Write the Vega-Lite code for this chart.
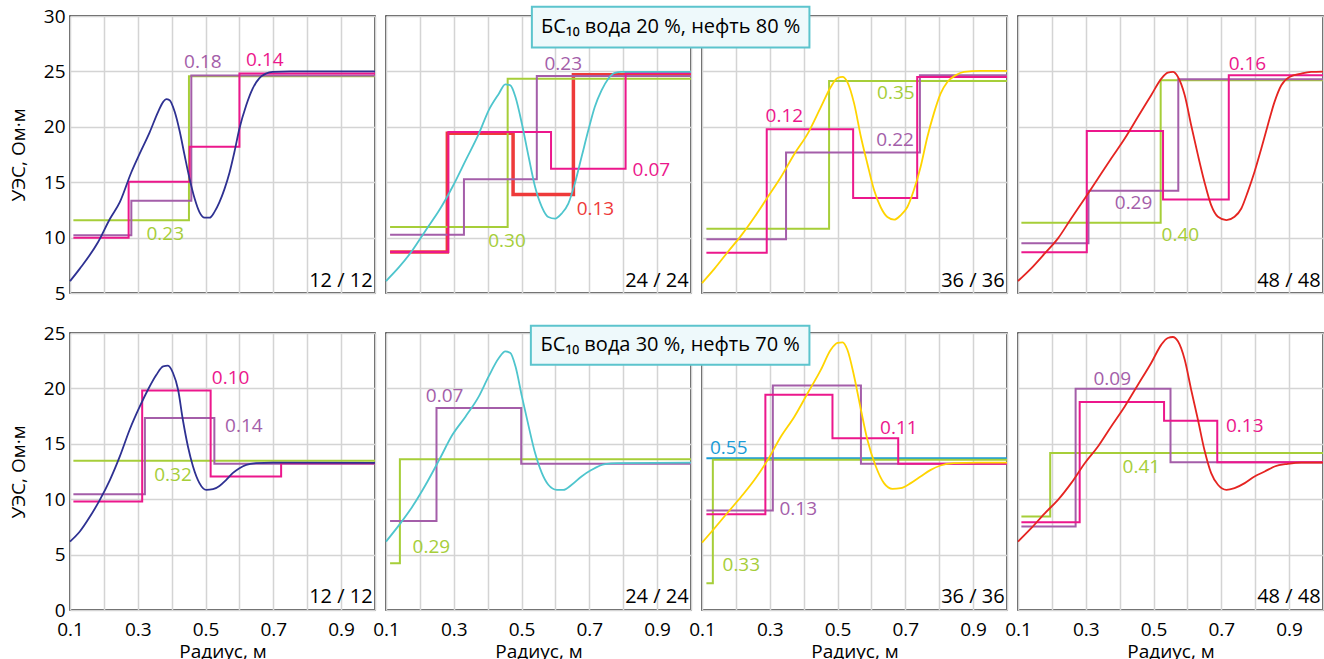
{
"$schema": "https://vega.github.io/schema/vega-lite/v6.json",
"padding": {"left": 8, "top": 5, "right": 0, "bottom": 0},
"background": "white",
"config": {
 "font": "Open Sans",
 "view": {"stroke": "#1e1e1e", "strokeWidth": 1.5},
 "axis": {"gridColor": "#d4d4d4", "gridWidth": 1.5, "labelFont": "Open Sans", "labelFontSize": 19, "labelColor": "#000", "titleFont": "Open Sans", "titleFontSize": 19, "titleFontWeight": "normal", "titleColor": "#000", "ticks": false, "domain": false, "labelFlush": false, "labelOverlap": false},
 "text": {"font": "Open Sans", "fontSize": 19}
},
"datasets": {
 "curves": [
  {"p":1,"s":"navy","x":0.1,"y":6.07},{"p":1,"s":"navy","x":0.129,"y":7.2},{"p":1,"s":"navy","x":0.183,"y":9.6},{"p":1,"s":"navy","x":0.218,"y":11.7},{"p":1,"s":"navy","x":0.247,"y":13.2},{"p":1,"s":"navy","x":0.281,"y":15.9},{"p":1,"s":"navy","x":0.306,"y":17.6},{"p":1,"s":"navy","x":0.335,"y":19.5},{"p":1,"s":"navy","x":0.36,"y":21.35},{"p":1,"s":"navy","x":0.375,"y":22.25},{"p":1,"s":"navy","x":0.384,"y":22.5},{"p":1,"s":"navy","x":0.394,"y":22.4},{"p":1,"s":"navy","x":0.409,"y":21.35},{"p":1,"s":"navy","x":0.424,"y":19.55},{"p":1,"s":"navy","x":0.438,"y":17.45},{"p":1,"s":"navy","x":0.453,"y":15.3},{"p":1,"s":"navy","x":0.468,"y":13.5},{"p":1,"s":"navy","x":0.482,"y":12.3},{"p":1,"s":"navy","x":0.497,"y":11.8},{"p":1,"s":"navy","x":0.512,"y":11.8},{"p":1,"s":"navy","x":0.526,"y":12.3},{"p":1,"s":"navy","x":0.541,"y":13.2},{"p":1,"s":"navy","x":0.556,"y":14.4},{"p":1,"s":"navy","x":0.571,"y":15.9},{"p":1,"s":"navy","x":0.585,"y":17.7},{"p":1,"s":"navy","x":0.6,"y":19.85},{"p":1,"s":"navy","x":0.62,"y":21.95},{"p":1,"s":"navy","x":0.639,"y":23.45},{"p":1,"s":"navy","x":0.659,"y":24.4},{"p":1,"s":"navy","x":0.678,"y":24.8},{"p":1,"s":"navy","x":0.698,"y":24.96},{"p":1,"s":"navy","x":0.75,"y":25.0},{"p":1,"s":"navy","x":1.0,"y":25.0},
  {"p":2,"s":"cyan","x":0.1,"y":6.08},{"p":2,"s":"cyan","x":0.139,"y":7.35},{"p":2,"s":"cyan","x":0.178,"y":8.85},{"p":2,"s":"cyan","x":0.217,"y":10.65},{"p":2,"s":"cyan","x":0.257,"y":12.46},{"p":2,"s":"cyan","x":0.296,"y":14.57},{"p":2,"s":"cyan","x":0.335,"y":16.97},{"p":2,"s":"cyan","x":0.374,"y":19.38},{"p":2,"s":"cyan","x":0.403,"y":21.49},{"p":2,"s":"cyan","x":0.433,"y":22.99},{"p":2,"s":"cyan","x":0.452,"y":23.83},{"p":2,"s":"cyan","x":0.467,"y":23.74},{"p":2,"s":"cyan","x":0.482,"y":22.69},{"p":2,"s":"cyan","x":0.501,"y":20.28},{"p":2,"s":"cyan","x":0.521,"y":17.27},{"p":2,"s":"cyan","x":0.54,"y":14.57},{"p":2,"s":"cyan","x":0.56,"y":12.76},{"p":2,"s":"cyan","x":0.579,"y":11.86},{"p":2,"s":"cyan","x":0.599,"y":11.71},{"p":2,"s":"cyan","x":0.618,"y":12.16},{"p":2,"s":"cyan","x":0.638,"y":13.06},{"p":2,"s":"cyan","x":0.657,"y":14.87},{"p":2,"s":"cyan","x":0.677,"y":17.27},{"p":2,"s":"cyan","x":0.697,"y":19.68},{"p":2,"s":"cyan","x":0.716,"y":21.79},{"p":2,"s":"cyan","x":0.736,"y":23.29},{"p":2,"s":"cyan","x":0.756,"y":24.34},{"p":2,"s":"cyan","x":0.775,"y":24.86},{"p":2,"s":"cyan","x":0.795,"y":24.95},{"p":2,"s":"cyan","x":1.0,"y":24.95},
  {"p":3,"s":"yellow","x":0.1,"y":5.9},{"p":3,"s":"yellow","x":0.137,"y":7.2},{"p":3,"s":"yellow","x":0.176,"y":8.7},{"p":3,"s":"yellow","x":0.216,"y":10.2},{"p":3,"s":"yellow","x":0.255,"y":11.86},{"p":3,"s":"yellow","x":0.294,"y":13.66},{"p":3,"s":"yellow","x":0.333,"y":15.47},{"p":3,"s":"yellow","x":0.373,"y":17.57},{"p":3,"s":"yellow","x":0.412,"y":19.38},{"p":3,"s":"yellow","x":0.451,"y":21.79},{"p":3,"s":"yellow","x":0.48,"y":23.59},{"p":3,"s":"yellow","x":0.5,"y":24.4},{"p":3,"s":"yellow","x":0.515,"y":24.5},{"p":3,"s":"yellow","x":0.529,"y":24.04},{"p":3,"s":"yellow","x":0.549,"y":22.09},{"p":3,"s":"yellow","x":0.569,"y":19.08},{"p":3,"s":"yellow","x":0.588,"y":16.67},{"p":3,"s":"yellow","x":0.608,"y":14.27},{"p":3,"s":"yellow","x":0.627,"y":12.76},{"p":3,"s":"yellow","x":0.647,"y":11.86},{"p":3,"s":"yellow","x":0.667,"y":11.62},{"p":3,"s":"yellow","x":0.686,"y":12.01},{"p":3,"s":"yellow","x":0.706,"y":12.76},{"p":3,"s":"yellow","x":0.725,"y":14.27},{"p":3,"s":"yellow","x":0.745,"y":16.37},{"p":3,"s":"yellow","x":0.765,"y":19.08},{"p":3,"s":"yellow","x":0.784,"y":21.19},{"p":3,"s":"yellow","x":0.804,"y":22.99},{"p":3,"s":"yellow","x":0.824,"y":24.04},{"p":3,"s":"yellow","x":0.848,"y":24.64},{"p":3,"s":"yellow","x":0.873,"y":24.95},{"p":3,"s":"yellow","x":0.92,"y":25.04},{"p":3,"s":"yellow","x":1.0,"y":25.04},
  {"p":4,"s":"red","x":0.1,"y":6.08},{"p":4,"s":"red","x":0.139,"y":7.22},{"p":4,"s":"red","x":0.179,"y":8.57},{"p":4,"s":"red","x":0.218,"y":9.93},{"p":4,"s":"red","x":0.257,"y":11.73},{"p":4,"s":"red","x":0.297,"y":13.53},{"p":4,"s":"red","x":0.336,"y":15.34},{"p":4,"s":"red","x":0.375,"y":17.14},{"p":4,"s":"red","x":0.415,"y":18.94},{"p":4,"s":"red","x":0.454,"y":20.9},{"p":4,"s":"red","x":0.493,"y":22.85},{"p":4,"s":"red","x":0.523,"y":24.35},{"p":4,"s":"red","x":0.542,"y":24.89},{"p":4,"s":"red","x":0.557,"y":24.95},{"p":4,"s":"red","x":0.572,"y":24.5},{"p":4,"s":"red","x":0.592,"y":22.85},{"p":4,"s":"red","x":0.611,"y":20.14},{"p":4,"s":"red","x":0.631,"y":17.44},{"p":4,"s":"red","x":0.65,"y":15.04},{"p":4,"s":"red","x":0.67,"y":12.93},{"p":4,"s":"red","x":0.69,"y":11.88},{"p":4,"s":"red","x":0.715,"y":11.58},{"p":4,"s":"red","x":0.739,"y":11.88},{"p":4,"s":"red","x":0.759,"y":12.63},{"p":4,"s":"red","x":0.778,"y":14.13},{"p":4,"s":"red","x":0.798,"y":15.94},{"p":4,"s":"red","x":0.818,"y":18.04},{"p":4,"s":"red","x":0.837,"y":20.14},{"p":4,"s":"red","x":0.857,"y":22.25},{"p":4,"s":"red","x":0.877,"y":23.75},{"p":4,"s":"red","x":0.901,"y":24.5},{"p":4,"s":"red","x":0.936,"y":24.8},{"p":4,"s":"red","x":0.965,"y":24.95},{"p":4,"s":"red","x":1.0,"y":24.98},
  {"p":5,"s":"navy","x":0.1,"y":6.17},{"p":5,"s":"navy","x":0.129,"y":7.08},{"p":5,"s":"navy","x":0.159,"y":8.43},{"p":5,"s":"navy","x":0.188,"y":9.94},{"p":5,"s":"navy","x":0.218,"y":11.75},{"p":5,"s":"navy","x":0.247,"y":13.86},{"p":5,"s":"navy","x":0.276,"y":16.27},{"p":5,"s":"navy","x":0.306,"y":18.37},{"p":5,"s":"navy","x":0.33,"y":19.88},{"p":5,"s":"navy","x":0.355,"y":21.23},{"p":5,"s":"navy","x":0.375,"y":21.99},{"p":5,"s":"navy","x":0.389,"y":22.05},{"p":5,"s":"navy","x":0.404,"y":21.39},{"p":5,"s":"navy","x":0.419,"y":19.88},{"p":5,"s":"navy","x":0.433,"y":17.17},{"p":5,"s":"navy","x":0.448,"y":14.76},{"p":5,"s":"navy","x":0.463,"y":12.95},{"p":5,"s":"navy","x":0.482,"y":11.45},{"p":5,"s":"navy","x":0.502,"y":10.84},{"p":5,"s":"navy","x":0.522,"y":10.9},{"p":5,"s":"navy","x":0.541,"y":11.2},{"p":5,"s":"navy","x":0.561,"y":11.75},{"p":5,"s":"navy","x":0.58,"y":12.35},{"p":5,"s":"navy","x":0.6,"y":12.8},{"p":5,"s":"navy","x":0.62,"y":13.1},{"p":5,"s":"navy","x":0.649,"y":13.25},{"p":5,"s":"navy","x":0.698,"y":13.31},{"p":5,"s":"navy","x":1.0,"y":13.28},
  {"p":6,"s":"cyan","x":0.1,"y":6.17},{"p":6,"s":"cyan","x":0.139,"y":7.68},{"p":6,"s":"cyan","x":0.178,"y":9.34},{"p":6,"s":"cyan","x":0.217,"y":11.3},{"p":6,"s":"cyan","x":0.257,"y":13.55},{"p":6,"s":"cyan","x":0.296,"y":15.81},{"p":6,"s":"cyan","x":0.335,"y":17.47},{"p":6,"s":"cyan","x":0.374,"y":19.28},{"p":6,"s":"cyan","x":0.403,"y":21.08},{"p":6,"s":"cyan","x":0.433,"y":22.74},{"p":6,"s":"cyan","x":0.452,"y":23.34},{"p":6,"s":"cyan","x":0.467,"y":23.19},{"p":6,"s":"cyan","x":0.482,"y":21.99},{"p":6,"s":"cyan","x":0.501,"y":19.28},{"p":6,"s":"cyan","x":0.521,"y":16.57},{"p":6,"s":"cyan","x":0.54,"y":14.16},{"p":6,"s":"cyan","x":0.56,"y":12.35},{"p":6,"s":"cyan","x":0.579,"y":11.3},{"p":6,"s":"cyan","x":0.604,"y":10.84},{"p":6,"s":"cyan","x":0.623,"y":10.84},{"p":6,"s":"cyan","x":0.648,"y":11.3},{"p":6,"s":"cyan","x":0.677,"y":12.05},{"p":6,"s":"cyan","x":0.707,"y":12.65},{"p":6,"s":"cyan","x":0.746,"y":13.16},{"p":6,"s":"cyan","x":0.785,"y":13.25},{"p":6,"s":"cyan","x":1.0,"y":13.31},
  {"p":7,"s":"yellow","x":0.1,"y":6.08},{"p":7,"s":"yellow","x":0.137,"y":7.38},{"p":7,"s":"yellow","x":0.176,"y":8.8},{"p":7,"s":"yellow","x":0.216,"y":10.24},{"p":7,"s":"yellow","x":0.255,"y":11.75},{"p":7,"s":"yellow","x":0.294,"y":13.55},{"p":7,"s":"yellow","x":0.333,"y":15.66},{"p":7,"s":"yellow","x":0.373,"y":17.47},{"p":7,"s":"yellow","x":0.412,"y":19.58},{"p":7,"s":"yellow","x":0.451,"y":21.69},{"p":7,"s":"yellow","x":0.48,"y":23.49},{"p":7,"s":"yellow","x":0.5,"y":24.1},{"p":7,"s":"yellow","x":0.515,"y":24.16},{"p":7,"s":"yellow","x":0.529,"y":23.49},{"p":7,"s":"yellow","x":0.549,"y":21.08},{"p":7,"s":"yellow","x":0.569,"y":18.07},{"p":7,"s":"yellow","x":0.588,"y":15.36},{"p":7,"s":"yellow","x":0.613,"y":12.95},{"p":7,"s":"yellow","x":0.637,"y":11.45},{"p":7,"s":"yellow","x":0.662,"y":10.93},{"p":7,"s":"yellow","x":0.686,"y":10.99},{"p":7,"s":"yellow","x":0.716,"y":11.45},{"p":7,"s":"yellow","x":0.745,"y":12.05},{"p":7,"s":"yellow","x":0.775,"y":12.65},{"p":7,"s":"yellow","x":0.804,"y":13.04},{"p":7,"s":"yellow","x":0.843,"y":13.25},{"p":7,"s":"yellow","x":0.912,"y":13.31},{"p":7,"s":"yellow","x":1.0,"y":13.31},
  {"p":8,"s":"red","x":0.1,"y":6.17},{"p":8,"s":"red","x":0.139,"y":7.38},{"p":8,"s":"red","x":0.179,"y":8.73},{"p":8,"s":"red","x":0.218,"y":9.94},{"p":8,"s":"red","x":0.257,"y":11.45},{"p":8,"s":"red","x":0.297,"y":13.25},{"p":8,"s":"red","x":0.336,"y":14.76},{"p":8,"s":"red","x":0.375,"y":16.57},{"p":8,"s":"red","x":0.415,"y":18.37},{"p":8,"s":"red","x":0.454,"y":20.33},{"p":8,"s":"red","x":0.493,"y":22.29},{"p":8,"s":"red","x":0.523,"y":23.95},{"p":8,"s":"red","x":0.542,"y":24.55},{"p":8,"s":"red","x":0.557,"y":24.64},{"p":8,"s":"red","x":0.572,"y":24.25},{"p":8,"s":"red","x":0.592,"y":22.59},{"p":8,"s":"red","x":0.611,"y":19.88},{"p":8,"s":"red","x":0.631,"y":17.17},{"p":8,"s":"red","x":0.65,"y":14.46},{"p":8,"s":"red","x":0.67,"y":12.35},{"p":8,"s":"red","x":0.69,"y":11.3},{"p":8,"s":"red","x":0.715,"y":10.84},{"p":8,"s":"red","x":0.739,"y":11.0},{"p":8,"s":"red","x":0.769,"y":11.45},{"p":8,"s":"red","x":0.798,"y":12.05},{"p":8,"s":"red","x":0.828,"y":12.5},{"p":8,"s":"red","x":0.857,"y":12.95},{"p":8,"s":"red","x":0.896,"y":13.19},{"p":8,"s":"red","x":0.936,"y":13.31},{"p":8,"s":"red","x":1.0,"y":13.31}
 ],
 "steps": [
  {"p":1,"s":"green","x":0.11,"y":11.57},{"p":1,"s":"green","x":0.451,"y":24.57},{"p":1,"s":"green","x":1.0,"y":24.57},
  {"p":1,"s":"purple","x":0.11,"y":10.22},{"p":1,"s":"purple","x":0.281,"y":13.32},{"p":1,"s":"purple","x":0.458,"y":24.62},{"p":1,"s":"purple","x":1.0,"y":24.62},
  {"p":1,"s":"pink","x":0.11,"y":9.98},{"p":1,"s":"pink","x":0.273,"y":15.03},{"p":1,"s":"pink","x":0.453,"y":18.19},{"p":1,"s":"pink","x":0.6,"y":24.81},{"p":1,"s":"pink","x":1.0,"y":24.81},
  {"p":2,"s":"redstep","x":0.112,"y":8.7},{"p":2,"s":"redstep","x":0.281,"y":19.41},{"p":2,"s":"redstep","x":0.475,"y":13.88},{"p":2,"s":"redstep","x":0.653,"y":24.7},{"p":2,"s":"redstep","x":1.0,"y":24.7},
  {"p":2,"s":"green","x":0.112,"y":10.96},{"p":2,"s":"green","x":0.459,"y":24.34},{"p":2,"s":"green","x":1.0,"y":24.34},
  {"p":2,"s":"purple","x":0.112,"y":10.26},{"p":2,"s":"purple","x":0.33,"y":15.26},{"p":2,"s":"purple","x":0.545,"y":24.58},{"p":2,"s":"purple","x":1.0,"y":24.58},
  {"p":2,"s":"pink","x":0.112,"y":8.7},{"p":2,"s":"pink","x":0.284,"y":19.53},{"p":2,"s":"pink","x":0.587,"y":16.22},{"p":2,"s":"pink","x":0.807,"y":24.86},{"p":2,"s":"pink","x":1.0,"y":24.86},
  {"p":3,"s":"green","x":0.113,"y":10.81},{"p":3,"s":"green","x":0.475,"y":24.13},{"p":3,"s":"green","x":1.0,"y":24.13},
  {"p":3,"s":"purple","x":0.113,"y":9.84},{"p":3,"s":"purple","x":0.348,"y":17.67},{"p":3,"s":"purple","x":0.743,"y":24.65},{"p":3,"s":"purple","x":1.0,"y":24.65},
  {"p":3,"s":"pink","x":0.113,"y":8.64},{"p":3,"s":"pink","x":0.291,"y":19.77},{"p":3,"s":"pink","x":0.546,"y":13.57},{"p":3,"s":"pink","x":0.735,"y":24.5},{"p":3,"s":"pink","x":1.0,"y":24.5},
  {"p":4,"s":"green","x":0.11,"y":11.34},{"p":4,"s":"green","x":0.521,"y":24.2},{"p":4,"s":"green","x":1.0,"y":24.2},
  {"p":4,"s":"purple","x":0.11,"y":9.48},{"p":4,"s":"purple","x":0.308,"y":14.22},{"p":4,"s":"purple","x":0.573,"y":24.29},{"p":4,"s":"purple","x":1.0,"y":24.29},
  {"p":4,"s":"pink","x":0.11,"y":8.67},{"p":4,"s":"pink","x":0.303,"y":19.63},{"p":4,"s":"pink","x":0.528,"y":13.44},{"p":4,"s":"pink","x":0.722,"y":24.65},{"p":4,"s":"pink","x":1.0,"y":24.65},
  {"p":5,"s":"green","x":0.11,"y":13.46},{"p":5,"s":"green","x":1.0,"y":13.46},
  {"p":5,"s":"purple","x":0.11,"y":10.45},{"p":5,"s":"purple","x":0.321,"y":17.32},{"p":5,"s":"purple","x":0.526,"y":13.19},{"p":5,"s":"purple","x":1.0,"y":13.19},
  {"p":5,"s":"pink","x":0.11,"y":9.79},{"p":5,"s":"pink","x":0.313,"y":19.82},{"p":5,"s":"pink","x":0.515,"y":12.05},{"p":5,"s":"pink","x":0.723,"y":13.25},{"p":5,"s":"pink","x":1.0,"y":13.25},
  {"p":6,"s":"green","x":0.112,"y":4.22},{"p":6,"s":"green","x":0.141,"y":13.61},{"p":6,"s":"green","x":1.0,"y":13.61},
  {"p":6,"s":"purple","x":0.112,"y":8.04},{"p":6,"s":"purple","x":0.249,"y":18.22},{"p":6,"s":"purple","x":0.499,"y":13.19},{"p":6,"s":"purple","x":1.0,"y":13.19},
  {"p":7,"s":"blue","x":0.113,"y":13.7},{"p":7,"s":"blue","x":1.0,"y":13.7},
  {"p":7,"s":"green","x":0.113,"y":2.41},{"p":7,"s":"green","x":0.132,"y":13.56},{"p":7,"s":"green","x":1.0,"y":13.56},
  {"p":7,"s":"purple","x":0.113,"y":8.98},{"p":7,"s":"purple","x":0.309,"y":20.27},{"p":7,"s":"purple","x":0.569,"y":13.19},{"p":7,"s":"purple","x":1.0,"y":13.19},
  {"p":7,"s":"pink","x":0.113,"y":8.64},{"p":7,"s":"pink","x":0.287,"y":19.43},{"p":7,"s":"pink","x":0.485,"y":15.51},{"p":7,"s":"pink","x":0.679,"y":13.19},{"p":7,"s":"pink","x":1.0,"y":13.19},
  {"p":8,"s":"green","x":0.11,"y":8.43},{"p":8,"s":"green","x":0.195,"y":14.16},{"p":8,"s":"green","x":1.0,"y":14.16},
  {"p":8,"s":"purple","x":0.11,"y":7.53},{"p":8,"s":"purple","x":0.27,"y":19.97},{"p":8,"s":"purple","x":0.55,"y":13.34},{"p":8,"s":"purple","x":1.0,"y":13.34},
  {"p":8,"s":"pink","x":0.11,"y":7.92},{"p":8,"s":"pink","x":0.282,"y":18.77},{"p":8,"s":"pink","x":0.531,"y":17.08},{"p":8,"s":"pink","x":0.688,"y":13.34},{"p":8,"s":"pink","x":1.0,"y":13.34}
 ],
 "labels": [
  {"p":1,"s":"purple","t":"0.18","x":0.492,"y":25.86},{"p":1,"s":"pink","t":"0.14","x":0.675,"y":26.0},{"p":1,"s":"green","t":"0.23","x":0.381,"y":10.37},
  {"p":2,"s":"purple","t":"0.23","x":0.623,"y":25.7},{"p":2,"s":"pink","t":"0.07","x":0.883,"y":16.07},{"p":2,"s":"redstep","t":"0.13","x":0.718,"y":12.6},{"p":2,"s":"green","t":"0.30","x":0.457,"y":9.66},
  {"p":3,"s":"pink","t":"0.12","x":0.343,"y":20.97},{"p":3,"s":"purple","t":"0.22","x":0.67,"y":18.78},{"p":3,"s":"green","t":"0.35","x":0.672,"y":23.05},
  {"p":4,"s":"pink","t":"0.16","x":0.777,"y":25.7},{"p":4,"s":"purple","t":"0.29","x":0.441,"y":13.14},{"p":4,"s":"green","t":"0.40","x":0.579,"y":10.23},
  {"p":5,"s":"pink","t":"0.10","x":0.574,"y":20.93},{"p":5,"s":"purple","t":"0.14","x":0.613,"y":16.63},{"p":5,"s":"green","t":"0.32","x":0.404,"y":12.2},
  {"p":6,"s":"purple","t":"0.07","x":0.273,"y":19.28},{"p":6,"s":"green","t":"0.29","x":0.234,"y":5.72},
  {"p":7,"s":"blue","t":"0.55","x":0.179,"y":14.61},{"p":7,"s":"pink","t":"0.11","x":0.681,"y":16.42},{"p":7,"s":"purple","t":"0.13","x":0.384,"y":9.1},{"p":7,"s":"green","t":"0.33","x":0.216,"y":4.07},
  {"p":8,"s":"purple","t":"0.09","x":0.378,"y":20.84},{"p":8,"s":"pink","t":"0.13","x":0.769,"y":16.63},{"p":8,"s":"green","t":"0.41","x":0.464,"y":12.95}
 ],
 "corners": [
  {"p":1,"t":"12 / 12","x":0.993,"y":6.07},{"p":2,"t":"24 / 24","x":0.993,"y":6.07},{"p":3,"t":"36 / 36","x":0.993,"y":6.07},{"p":4,"t":"48 / 48","x":0.993,"y":6.07},
  {"p":5,"t":"12 / 12","x":0.993,"y":1.2},{"p":6,"t":"24 / 24","x":0.993,"y":1.2},{"p":7,"t":"36 / 36","x":0.993,"y":1.2},{"p":8,"t":"48 / 48","x":0.993,"y":1.2}
 ],
 "boxes": [
  {"p":3,"t":"БС₁₀  вода 20 %, нефть 80 %","x":-0.402,"x2":0.417,"y":27.16,"y2":30.83,"tx":0.0075,"ty":29.0},
  {"p":7,"t":"БС₁₀  вода 30 %, нефть 70 %","x":-0.405,"x2":0.417,"y":22.14,"y2":25.66,"tx":0.006,"ty":23.9}
 ]
},
"spacing": 19,
"vconcat": [
 {"spacing": 11, "bounds": "flush", "hconcat": [
  {"width": 305, "height": 277,
   "encoding": {
    "x": {"field": "x", "type": "quantitative", "scale": {"domain": [0.1, 1.0], "nice": false, "zero": false}, "axis": {"values": [0.1,0.2,0.3,0.4,0.5,0.6,0.7,0.8,0.9,1.0], "labels": false, "title": null}},
    "y": {"field": "y", "type": "quantitative", "scale": {"domain": [5, 30], "nice": false, "zero": false}, "axis": {"values": [5,10,15,20,25,30], "title": "УЭС, Ом·м", "labelPadding": 5, "titlePadding": 15}}
   },
   "layer": [
    {"data": {"name": "steps"}, "transform": [{"filter": "datum.p == 1"}], "mark": {"type": "line", "interpolate": "step-after", "strokeWidth": 2}, "encoding": {"color": {"field": "s", "type": "nominal", "legend": null, "scale": {"domain": ["navy","cyan","yellow","red","green","purple","pink","redstep","blue"], "range": ["#2e3192","#4ec5cd","#ffd400","#e52421","#a6ce39","#a45ea9","#ec178c","#ee3a3a","#1a9bd7"]}}}},
    {"data": {"name": "curves"}, "transform": [{"filter": "datum.p == 1"}], "mark": {"type": "line", "interpolate": "monotone", "strokeWidth": 1.8}, "encoding": {"color": {"field": "s", "type": "nominal", "legend": null, "scale": {"domain": ["navy","cyan","yellow","red","green","purple","pink","redstep","blue"], "range": ["#2e3192","#4ec5cd","#ffd400","#e52421","#a6ce39","#a45ea9","#ec178c","#ee3a3a","#1a9bd7"]}}}},
    {"data": {"name": "labels"}, "transform": [{"filter": "datum.p == 1"}], "mark": {"type": "text", "fontSize": 19, "align": "center", "baseline": "middle"}, "encoding": {"text": {"field": "t"}, "color": {"field": "s", "type": "nominal", "legend": null, "scale": {"domain": ["navy","cyan","yellow","red","green","purple","pink","redstep","blue"], "range": ["#2e3192","#4ec5cd","#ffd400","#e52421","#a6ce39","#a45ea9","#ec178c","#ee3a3a","#1a9bd7"]}}}},
    {"data": {"name": "corners"}, "transform": [{"filter": "datum.p == 1"}], "mark": {"type": "text", "fontSize": 20, "align": "right", "baseline": "middle", "color": "#000"}, "encoding": {"text": {"field": "t"}}}
   ]},
  {"width": 305, "height": 277,
   "encoding": {
    "x": {"field": "x", "type": "quantitative", "scale": {"domain": [0.1, 1.0], "nice": false, "zero": false}, "axis": {"values": [0.1,0.2,0.3,0.4,0.5,0.6,0.7,0.8,0.9,1.0], "labels": false, "title": null}},
    "y": {"field": "y", "type": "quantitative", "scale": {"domain": [5, 30], "nice": false, "zero": false}, "axis": {"values": [5,10,15,20,25,30], "labels": false, "title": null}}
   },
   "layer": [
    {"data": {"name": "steps"}, "transform": [{"filter": "datum.p == 2 && datum.s == 'redstep'"}], "mark": {"type": "line", "interpolate": "step-after", "strokeWidth": 3.5}, "encoding": {"color": {"field": "s", "type": "nominal", "legend": null, "scale": {"domain": ["navy","cyan","yellow","red","green","purple","pink","redstep","blue"], "range": ["#2e3192","#4ec5cd","#ffd400","#e52421","#a6ce39","#a45ea9","#ec178c","#ee3a3a","#1a9bd7"]}}}},
    {"data": {"name": "steps"}, "transform": [{"filter": "datum.p == 2 && datum.s != 'redstep'"}], "mark": {"type": "line", "interpolate": "step-after", "strokeWidth": 2}, "encoding": {"color": {"field": "s", "type": "nominal", "legend": null, "scale": {"domain": ["navy","cyan","yellow","red","green","purple","pink","redstep","blue"], "range": ["#2e3192","#4ec5cd","#ffd400","#e52421","#a6ce39","#a45ea9","#ec178c","#ee3a3a","#1a9bd7"]}}}},
    {"data": {"name": "curves"}, "transform": [{"filter": "datum.p == 2"}], "mark": {"type": "line", "interpolate": "monotone", "strokeWidth": 1.8}, "encoding": {"color": {"field": "s", "type": "nominal", "legend": null, "scale": {"domain": ["navy","cyan","yellow","red","green","purple","pink","redstep","blue"], "range": ["#2e3192","#4ec5cd","#ffd400","#e52421","#a6ce39","#a45ea9","#ec178c","#ee3a3a","#1a9bd7"]}}}},
    {"data": {"name": "labels"}, "transform": [{"filter": "datum.p == 2"}], "mark": {"type": "text", "fontSize": 19, "align": "center", "baseline": "middle"}, "encoding": {"text": {"field": "t"}, "color": {"field": "s", "type": "nominal", "legend": null, "scale": {"domain": ["navy","cyan","yellow","red","green","purple","pink","redstep","blue"], "range": ["#2e3192","#4ec5cd","#ffd400","#e52421","#a6ce39","#a45ea9","#ec178c","#ee3a3a","#1a9bd7"]}}}},
    {"data": {"name": "corners"}, "transform": [{"filter": "datum.p == 2"}], "mark": {"type": "text", "fontSize": 20, "align": "right", "baseline": "middle", "color": "#000"}, "encoding": {"text": {"field": "t"}}}
   ]},
  {"width": 305, "height": 277,
   "encoding": {
    "x": {"field": "x", "type": "quantitative", "scale": {"domain": [0.1, 1.0], "nice": false, "zero": false}, "axis": {"values": [0.1,0.2,0.3,0.4,0.5,0.6,0.7,0.8,0.9,1.0], "labels": false, "title": null}},
    "y": {"field": "y", "type": "quantitative", "scale": {"domain": [5, 30], "nice": false, "zero": false}, "axis": {"values": [5,10,15,20,25,30], "labels": false, "title": null}}
   },
   "layer": [
    {"data": {"name": "steps"}, "transform": [{"filter": "datum.p == 3"}], "mark": {"type": "line", "interpolate": "step-after", "strokeWidth": 2}, "encoding": {"color": {"field": "s", "type": "nominal", "legend": null, "scale": {"domain": ["navy","cyan","yellow","red","green","purple","pink","redstep","blue"], "range": ["#2e3192","#4ec5cd","#ffd400","#e52421","#a6ce39","#a45ea9","#ec178c","#ee3a3a","#1a9bd7"]}}}},
    {"data": {"name": "curves"}, "transform": [{"filter": "datum.p == 3"}], "mark": {"type": "line", "interpolate": "monotone", "strokeWidth": 1.8}, "encoding": {"color": {"field": "s", "type": "nominal", "legend": null, "scale": {"domain": ["navy","cyan","yellow","red","green","purple","pink","redstep","blue"], "range": ["#2e3192","#4ec5cd","#ffd400","#e52421","#a6ce39","#a45ea9","#ec178c","#ee3a3a","#1a9bd7"]}}}},
    {"data": {"name": "labels"}, "transform": [{"filter": "datum.p == 3"}], "mark": {"type": "text", "fontSize": 19, "align": "center", "baseline": "middle"}, "encoding": {"text": {"field": "t"}, "color": {"field": "s", "type": "nominal", "legend": null, "scale": {"domain": ["navy","cyan","yellow","red","green","purple","pink","redstep","blue"], "range": ["#2e3192","#4ec5cd","#ffd400","#e52421","#a6ce39","#a45ea9","#ec178c","#ee3a3a","#1a9bd7"]}}}},
    {"data": {"name": "corners"}, "transform": [{"filter": "datum.p == 3"}], "mark": {"type": "text", "fontSize": 20, "align": "right", "baseline": "middle", "color": "#000"}, "encoding": {"text": {"field": "t"}}},
    {"data": {"name": "boxes"}, "transform": [{"filter": "datum.p == 3"}], "mark": {"type": "rect", "fill": "#eef9fb", "stroke": "#5cc4cd", "strokeWidth": 2}, "encoding": {"x2": {"field": "x2"}, "y2": {"field": "y2"}}},
    {"data": {"name": "boxes"}, "transform": [{"filter": "datum.p == 3"}], "mark": {"type": "text", "fontSize": 20, "align": "center", "baseline": "middle", "color": "#000"}, "encoding": {"x": {"field": "tx", "type": "quantitative", "scale": {"domain": [0.1, 1.0], "nice": false, "zero": false}}, "y": {"field": "ty", "type": "quantitative", "scale": {"domain": [5, 30], "nice": false, "zero": false}}, "text": {"field": "t"}}}
   ]},
  {"width": 305, "height": 277,
   "encoding": {
    "x": {"field": "x", "type": "quantitative", "scale": {"domain": [0.1, 1.0], "nice": false, "zero": false}, "axis": {"values": [0.1,0.2,0.3,0.4,0.5,0.6,0.7,0.8,0.9,1.0], "labels": false, "title": null}},
    "y": {"field": "y", "type": "quantitative", "scale": {"domain": [5, 30], "nice": false, "zero": false}, "axis": {"values": [5,10,15,20,25,30], "labels": false, "title": null}}
   },
   "layer": [
    {"data": {"name": "steps"}, "transform": [{"filter": "datum.p == 4"}], "mark": {"type": "line", "interpolate": "step-after", "strokeWidth": 2}, "encoding": {"color": {"field": "s", "type": "nominal", "legend": null, "scale": {"domain": ["navy","cyan","yellow","red","green","purple","pink","redstep","blue"], "range": ["#2e3192","#4ec5cd","#ffd400","#e52421","#a6ce39","#a45ea9","#ec178c","#ee3a3a","#1a9bd7"]}}}},
    {"data": {"name": "curves"}, "transform": [{"filter": "datum.p == 4"}], "mark": {"type": "line", "interpolate": "monotone", "strokeWidth": 1.8}, "encoding": {"color": {"field": "s", "type": "nominal", "legend": null, "scale": {"domain": ["navy","cyan","yellow","red","green","purple","pink","redstep","blue"], "range": ["#2e3192","#4ec5cd","#ffd400","#e52421","#a6ce39","#a45ea9","#ec178c","#ee3a3a","#1a9bd7"]}}}},
    {"data": {"name": "labels"}, "transform": [{"filter": "datum.p == 4"}], "mark": {"type": "text", "fontSize": 19, "align": "center", "baseline": "middle"}, "encoding": {"text": {"field": "t"}, "color": {"field": "s", "type": "nominal", "legend": null, "scale": {"domain": ["navy","cyan","yellow","red","green","purple","pink","redstep","blue"], "range": ["#2e3192","#4ec5cd","#ffd400","#e52421","#a6ce39","#a45ea9","#ec178c","#ee3a3a","#1a9bd7"]}}}},
    {"data": {"name": "corners"}, "transform": [{"filter": "datum.p == 4"}], "mark": {"type": "text", "fontSize": 20, "align": "right", "baseline": "middle", "color": "#000"}, "encoding": {"text": {"field": "t"}}}
   ]}
 ]},
 {"spacing": 11, "bounds": "flush", "hconcat": [
  {"width": 305, "height": 277,
   "encoding": {
    "x": {"field": "x", "type": "quantitative", "scale": {"domain": [0.1, 1.0], "nice": false, "zero": false}, "axis": {"values": [0.1,0.2,0.3,0.4,0.5,0.6,0.7,0.8,0.9,1.0], "format": ".1f", "labelExpr": "indexof(['0.1','0.3','0.5','0.7','0.9'], datum.label) >= 0 ? datum.label : ''", "title": "Радиус, м", "labelPadding": 10, "titlePadding": 3, "labelDx": 5}},
    "y": {"field": "y", "type": "quantitative", "scale": {"domain": [0, 25], "nice": false, "zero": false}, "axis": {"values": [0,5,10,15,20,25], "title": "УЭС, Ом·м", "labelPadding": 5, "titlePadding": 15}}
   },
   "layer": [
    {"data": {"name": "steps"}, "transform": [{"filter": "datum.p == 5"}], "mark": {"type": "line", "interpolate": "step-after", "strokeWidth": 2}, "encoding": {"color": {"field": "s", "type": "nominal", "legend": null, "scale": {"domain": ["navy","cyan","yellow","red","green","purple","pink","redstep","blue"], "range": ["#2e3192","#4ec5cd","#ffd400","#e52421","#a6ce39","#a45ea9","#ec178c","#ee3a3a","#1a9bd7"]}}}},
    {"data": {"name": "curves"}, "transform": [{"filter": "datum.p == 5"}], "mark": {"type": "line", "interpolate": "monotone", "strokeWidth": 1.8}, "encoding": {"color": {"field": "s", "type": "nominal", "legend": null, "scale": {"domain": ["navy","cyan","yellow","red","green","purple","pink","redstep","blue"], "range": ["#2e3192","#4ec5cd","#ffd400","#e52421","#a6ce39","#a45ea9","#ec178c","#ee3a3a","#1a9bd7"]}}}},
    {"data": {"name": "labels"}, "transform": [{"filter": "datum.p == 5"}], "mark": {"type": "text", "fontSize": 19, "align": "center", "baseline": "middle"}, "encoding": {"text": {"field": "t"}, "color": {"field": "s", "type": "nominal", "legend": null, "scale": {"domain": ["navy","cyan","yellow","red","green","purple","pink","redstep","blue"], "range": ["#2e3192","#4ec5cd","#ffd400","#e52421","#a6ce39","#a45ea9","#ec178c","#ee3a3a","#1a9bd7"]}}}},
    {"data": {"name": "corners"}, "transform": [{"filter": "datum.p == 5"}], "mark": {"type": "text", "fontSize": 20, "align": "right", "baseline": "middle", "color": "#000"}, "encoding": {"text": {"field": "t"}}}
   ]},
  {"width": 305, "height": 277,
   "encoding": {
    "x": {"field": "x", "type": "quantitative", "scale": {"domain": [0.1, 1.0], "nice": false, "zero": false}, "axis": {"values": [0.1,0.2,0.3,0.4,0.5,0.6,0.7,0.8,0.9,1.0], "format": ".1f", "labelExpr": "indexof(['0.1','0.3','0.5','0.7','0.9'], datum.label) >= 0 ? datum.label : ''", "title": "Радиус, м", "labelPadding": 10, "titlePadding": 3, "labelDx": 5}},
    "y": {"field": "y", "type": "quantitative", "scale": {"domain": [0, 25], "nice": false, "zero": false}, "axis": {"values": [0,5,10,15,20,25], "labels": false, "title": null}}
   },
   "layer": [
    {"data": {"name": "steps"}, "transform": [{"filter": "datum.p == 6"}], "mark": {"type": "line", "interpolate": "step-after", "strokeWidth": 2}, "encoding": {"color": {"field": "s", "type": "nominal", "legend": null, "scale": {"domain": ["navy","cyan","yellow","red","green","purple","pink","redstep","blue"], "range": ["#2e3192","#4ec5cd","#ffd400","#e52421","#a6ce39","#a45ea9","#ec178c","#ee3a3a","#1a9bd7"]}}}},
    {"data": {"name": "curves"}, "transform": [{"filter": "datum.p == 6"}], "mark": {"type": "line", "interpolate": "monotone", "strokeWidth": 1.8}, "encoding": {"color": {"field": "s", "type": "nominal", "legend": null, "scale": {"domain": ["navy","cyan","yellow","red","green","purple","pink","redstep","blue"], "range": ["#2e3192","#4ec5cd","#ffd400","#e52421","#a6ce39","#a45ea9","#ec178c","#ee3a3a","#1a9bd7"]}}}},
    {"data": {"name": "labels"}, "transform": [{"filter": "datum.p == 6"}], "mark": {"type": "text", "fontSize": 19, "align": "center", "baseline": "middle"}, "encoding": {"text": {"field": "t"}, "color": {"field": "s", "type": "nominal", "legend": null, "scale": {"domain": ["navy","cyan","yellow","red","green","purple","pink","redstep","blue"], "range": ["#2e3192","#4ec5cd","#ffd400","#e52421","#a6ce39","#a45ea9","#ec178c","#ee3a3a","#1a9bd7"]}}}},
    {"data": {"name": "corners"}, "transform": [{"filter": "datum.p == 6"}], "mark": {"type": "text", "fontSize": 20, "align": "right", "baseline": "middle", "color": "#000"}, "encoding": {"text": {"field": "t"}}}
   ]},
  {"width": 305, "height": 277,
   "encoding": {
    "x": {"field": "x", "type": "quantitative", "scale": {"domain": [0.1, 1.0], "nice": false, "zero": false}, "axis": {"values": [0.1,0.2,0.3,0.4,0.5,0.6,0.7,0.8,0.9,1.0], "format": ".1f", "labelExpr": "indexof(['0.1','0.3','0.5','0.7','0.9'], datum.label) >= 0 ? datum.label : ''", "title": "Радиус, м", "labelPadding": 10, "titlePadding": 3, "labelDx": 5}},
    "y": {"field": "y", "type": "quantitative", "scale": {"domain": [0, 25], "nice": false, "zero": false}, "axis": {"values": [0,5,10,15,20,25], "labels": false, "title": null}}
   },
   "layer": [
    {"data": {"name": "steps"}, "transform": [{"filter": "datum.p == 7"}], "mark": {"type": "line", "interpolate": "step-after", "strokeWidth": 2}, "encoding": {"color": {"field": "s", "type": "nominal", "legend": null, "scale": {"domain": ["navy","cyan","yellow","red","green","purple","pink","redstep","blue"], "range": ["#2e3192","#4ec5cd","#ffd400","#e52421","#a6ce39","#a45ea9","#ec178c","#ee3a3a","#1a9bd7"]}}}},
    {"data": {"name": "curves"}, "transform": [{"filter": "datum.p == 7"}], "mark": {"type": "line", "interpolate": "monotone", "strokeWidth": 1.8}, "encoding": {"color": {"field": "s", "type": "nominal", "legend": null, "scale": {"domain": ["navy","cyan","yellow","red","green","purple","pink","redstep","blue"], "range": ["#2e3192","#4ec5cd","#ffd400","#e52421","#a6ce39","#a45ea9","#ec178c","#ee3a3a","#1a9bd7"]}}}},
    {"data": {"name": "labels"}, "transform": [{"filter": "datum.p == 7"}], "mark": {"type": "text", "fontSize": 19, "align": "center", "baseline": "middle"}, "encoding": {"text": {"field": "t"}, "color": {"field": "s", "type": "nominal", "legend": null, "scale": {"domain": ["navy","cyan","yellow","red","green","purple","pink","redstep","blue"], "range": ["#2e3192","#4ec5cd","#ffd400","#e52421","#a6ce39","#a45ea9","#ec178c","#ee3a3a","#1a9bd7"]}}}},
    {"data": {"name": "corners"}, "transform": [{"filter": "datum.p == 7"}], "mark": {"type": "text", "fontSize": 20, "align": "right", "baseline": "middle", "color": "#000"}, "encoding": {"text": {"field": "t"}}},
    {"data": {"name": "boxes"}, "transform": [{"filter": "datum.p == 7"}], "mark": {"type": "rect", "fill": "#eef9fb", "stroke": "#5cc4cd", "strokeWidth": 2}, "encoding": {"x2": {"field": "x2"}, "y2": {"field": "y2"}}},
    {"data": {"name": "boxes"}, "transform": [{"filter": "datum.p == 7"}], "mark": {"type": "text", "fontSize": 20, "align": "center", "baseline": "middle", "color": "#000"}, "encoding": {"x": {"field": "tx", "type": "quantitative", "scale": {"domain": [0.1, 1.0], "nice": false, "zero": false}}, "y": {"field": "ty", "type": "quantitative", "scale": {"domain": [0, 25], "nice": false, "zero": false}}, "text": {"field": "t"}}}
   ]},
  {"width": 305, "height": 277,
   "encoding": {
    "x": {"field": "x", "type": "quantitative", "scale": {"domain": [0.1, 1.0], "nice": false, "zero": false}, "axis": {"values": [0.1,0.2,0.3,0.4,0.5,0.6,0.7,0.8,0.9,1.0], "format": ".1f", "labelExpr": "indexof(['0.1','0.3','0.5','0.7','0.9'], datum.label) >= 0 ? datum.label : ''", "title": "Радиус, м", "labelPadding": 10, "titlePadding": 3, "labelDx": 5}},
    "y": {"field": "y", "type": "quantitative", "scale": {"domain": [0, 25], "nice": false, "zero": false}, "axis": {"values": [0,5,10,15,20,25], "labels": false, "title": null}}
   },
   "layer": [
    {"data": {"name": "steps"}, "transform": [{"filter": "datum.p == 8"}], "mark": {"type": "line", "interpolate": "step-after", "strokeWidth": 2}, "encoding": {"color": {"field": "s", "type": "nominal", "legend": null, "scale": {"domain": ["navy","cyan","yellow","red","green","purple","pink","redstep","blue"], "range": ["#2e3192","#4ec5cd","#ffd400","#e52421","#a6ce39","#a45ea9","#ec178c","#ee3a3a","#1a9bd7"]}}}},
    {"data": {"name": "curves"}, "transform": [{"filter": "datum.p == 8"}], "mark": {"type": "line", "interpolate": "monotone", "strokeWidth": 1.8}, "encoding": {"color": {"field": "s", "type": "nominal", "legend": null, "scale": {"domain": ["navy","cyan","yellow","red","green","purple","pink","redstep","blue"], "range": ["#2e3192","#4ec5cd","#ffd400","#e52421","#a6ce39","#a45ea9","#ec178c","#ee3a3a","#1a9bd7"]}}}},
    {"data": {"name": "labels"}, "transform": [{"filter": "datum.p == 8"}], "mark": {"type": "text", "fontSize": 19, "align": "center", "baseline": "middle"}, "encoding": {"text": {"field": "t"}, "color": {"field": "s", "type": "nominal", "legend": null, "scale": {"domain": ["navy","cyan","yellow","red","green","purple","pink","redstep","blue"], "range": ["#2e3192","#4ec5cd","#ffd400","#e52421","#a6ce39","#a45ea9","#ec178c","#ee3a3a","#1a9bd7"]}}}},
    {"data": {"name": "corners"}, "transform": [{"filter": "datum.p == 8"}], "mark": {"type": "text", "fontSize": 20, "align": "right", "baseline": "middle", "color": "#000"}, "encoding": {"text": {"field": "t"}}}
   ]}
 ]}
]
}
